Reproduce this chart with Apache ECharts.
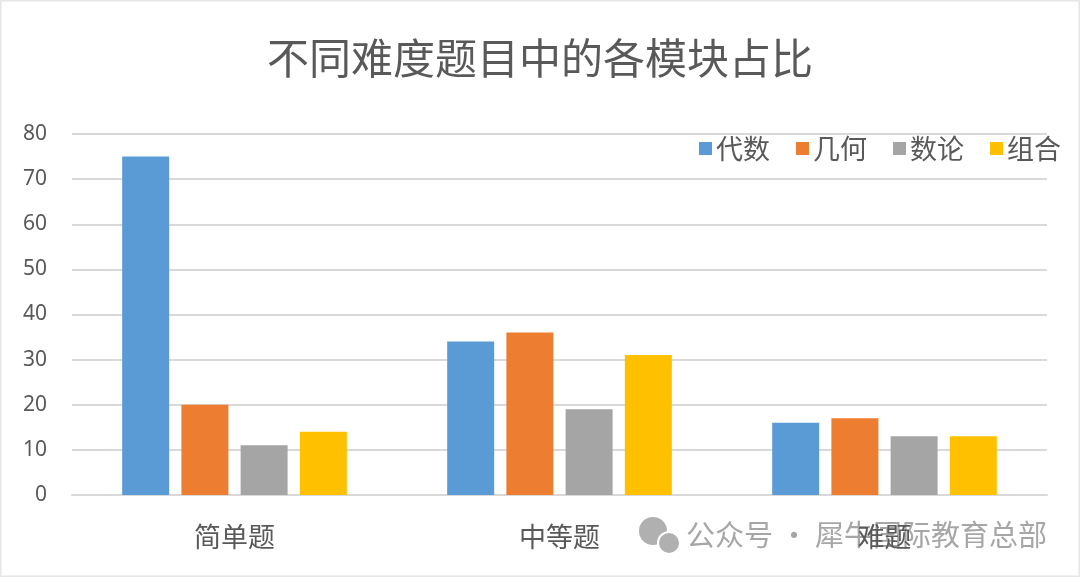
<!DOCTYPE html>
<html><head><meta charset="utf-8">
<script src="https://cdn.jsdelivr.net/npm/echarts@6/dist/echarts.min.js"></script>
<style>html,body{margin:0;padding:0;background:#fff}#c{width:1080px;height:577px}</style>
</head><body><div id="c"></div>
<script>
const categories = ['简单题', '中等题', '难题'];
const seriesNames = ['代数', '几何', '数论', '组合'];
const algebra = [75, 34, 16];
const geometry = [20, 36, 17];
const numberTheory = [11, 19, 13];
const combinatorics = [14, 31, 13];
const yTicks = [0, 10, 20, 30, 40, 50, 60, 70, 80];
const colors = ['#5b9bd5', '#ed7d31', '#a5a5a5', '#ffc000'];
const values = [algebra, geometry, numberTheory, combinatorics];

const font = '"Noto Sans CJK SC", "Microsoft YaHei", sans-serif';
const chart = echarts.init(document.getElementById('c'));
chart.setOption({
  animation: false,
  backgroundColor: '#fff',
  textStyle: { fontFamily: font },
  title: {
    text: '不同难度题目中的各模块占比',
    left: 'center', top: 32,
    textStyle: { fontSize: 42, fontWeight: 'normal', color: '#595959', fontFamily: font }
  },
  legend: {
    data: seriesNames,
    right: 14, top: 130,
    itemWidth: 13, itemHeight: 13, itemGap: 26,
    icon: 'rect',
    textStyle: { fontSize: 27, color: '#595959', fontFamily: font, padding: [0, 0, 0, -1] }
  },
  grid: { left: 72, right: 33, top: 134, bottom: 82, containLabel: false },
  xAxis: {
    type: 'category', data: categories,
    axisLine: { lineStyle: { color: '#d9d9d9', width: 2 } },
    axisTick: { show: false },
    axisLabel: { fontSize: 27, color: '#595959', margin: 28, fontFamily: font }
  },
  yAxis: {
    type: 'value', min: yTicks[0], max: yTicks[yTicks.length - 1], interval: 10,
    axisLine: { show: false }, axisTick: { show: false },
    axisLabel: { fontSize: 21, color: '#595959', margin: 25, fontFamily: '"Noto Sans", sans-serif' },
    splitLine: { lineStyle: { color: '#d9d9d9', width: 2 } }
  },
  series: seriesNames.map((n, i) => ({
    name: n, type: 'bar', data: values[i],
    barWidth: 47, barGap: '26%',
    itemStyle: { color: colors[i] }
  })),
  graphic: [
    { type: 'rect', shape: { x: 0, y: 0, width: 1080, height: 577 }, style: { fill: 'none', stroke: '#e6e6e6', lineWidth: 3 }, silent: true },
    { type: 'circle', shape: { cx: 653, cy: 531, r: 14 }, style: { fill: '#b0b0b0' } },
    { type: 'circle', shape: { cx: 669, cy: 543, r: 11 }, style: { fill: '#b0b0b0', stroke: '#fff', lineWidth: 2 } },
    { type: 'text', left: 686, top: 520, style: { text: '公众号 · 犀牛国际教育总部', fontSize: 29, fill: 'rgba(150,150,150,0.85)', fontFamily: font } }
  ]
});
</script></body></html>
